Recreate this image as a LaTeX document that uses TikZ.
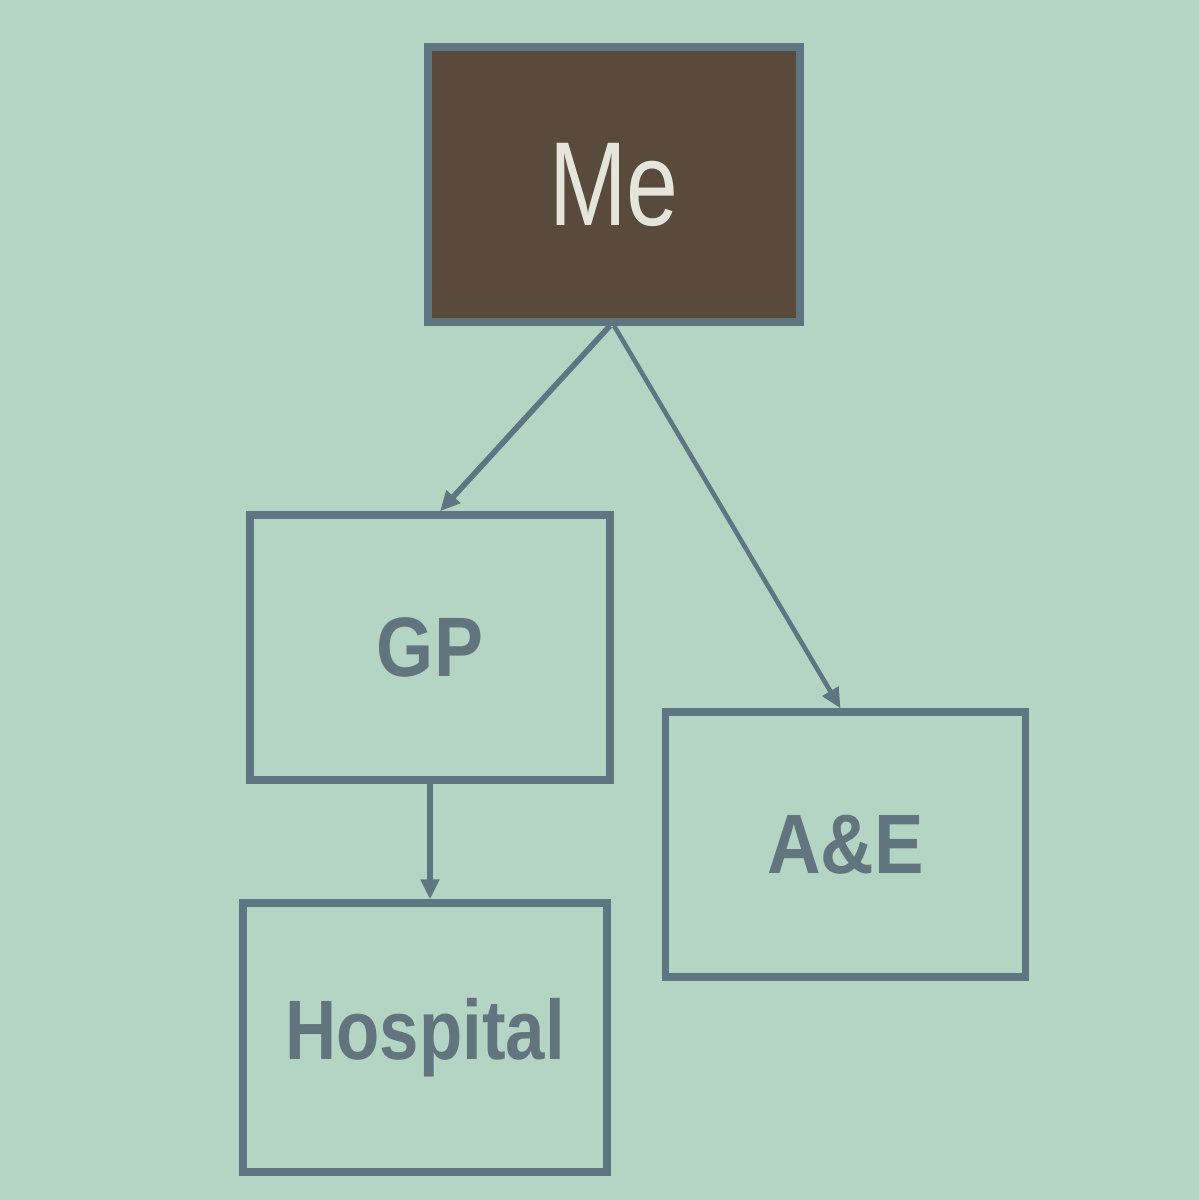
\documentclass[tikz,border=0pt]{standalone}
\usepackage{fontspec}
\setmainfont{Liberation Sans}
\usetikzlibrary{arrows.meta}
\definecolor{slide}{RGB}{180,212,196}
\definecolor{edge}{RGB}{94,117,130}
\definecolor{inktext}{RGB}{98,117,127}
\definecolor{mebrown}{RGB}{90,74,59}
\definecolor{mewhite}{RGB}{228,230,220}

\begin{document}
\begin{tikzpicture}[
        box/.style={draw=edge, line width=2.1pt, minimum width=3.6cm, minimum height=2.65cm, inner sep=0pt, text=inktext, font=\fontsize{24}{24}\selectfont\bfseries},
        link/.style={draw=edge, line width=1.6pt, -{Triangle[length=0.2cm,width=0.18cm]}}
    ]
        \fill [slide] (0,0) rectangle (11.99,-12);
        \useasboundingbox (0,0) rectangle (11.99,-12);
        \node[box, fill=mebrown, minimum width=3.72cm, minimum height=2.75cm, text=mewhite, font=\fontsize{34}{34}\selectfont] (me) at (6.14,-1.845) {\scalebox{0.78}[1]{Me}};
        \node[box] (gp) at (4.30,-6.475) {\scalebox{0.87}[1]{GP}};
        \node[box] (ae) at (8.455,-8.445) {\scalebox{0.88}[1]{A\&E}};
        \node[box, minimum width=3.64cm, minimum height=2.69cm] (hosp) at (4.25,-10.375) {\raisebox{-0.1cm}{\scalebox{0.84}[1]{Hospital}}};
        \draw [link] ([xshift=-0.04cm]me.south) -- ([xshift=0.1cm]gp.north);
        \draw [link, line width=1.3pt] (me.south) -- ([xshift=-0.05cm]ae.north);
        \draw [link] (gp.south) -- (gp.south |- hosp.north);
    \end{tikzpicture}
\end{document}
